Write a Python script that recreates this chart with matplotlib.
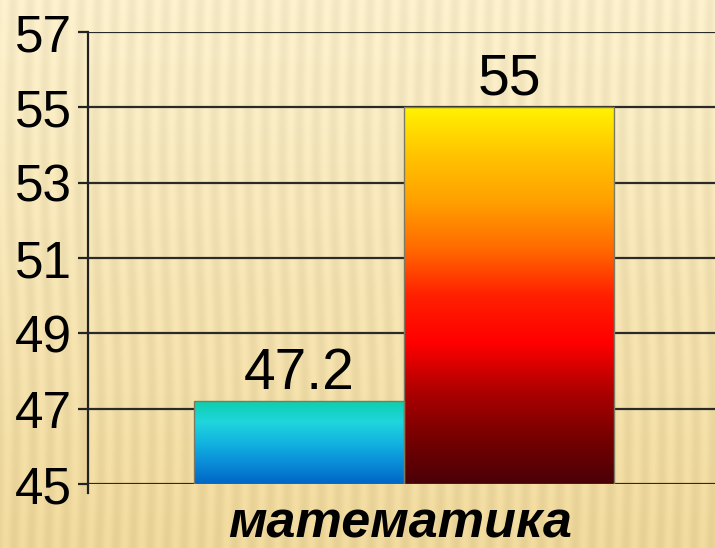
import matplotlib
matplotlib.use('Agg')
import matplotlib.pyplot as plt
import numpy as np
from matplotlib.colors import LinearSegmentedColormap

plt.rcParams['font.family'] = ['Liberation Sans', 'DejaVu Sans']

# data
category = 'математика'
values = [47.2, 55]
value_labels = ['47.2', '55']
y_ticks = [45, 47, 49, 51, 53, 55, 57]

# bar gradients, listed top -> bottom
grad_blue = ['#0ccfae', '#20d6dc', '#12b4e0', '#0a8cd8', '#0066c4']
grad_fire = ['#fff200', '#ffc400', '#ffa000', '#ff6a00', '#ff2000',
             '#ff0000', '#b00000', '#780000', '#4a0008']
gradients = [grad_blue, grad_fire]

fig = plt.figure(figsize=(7.15, 5.48), dpi=100)

# background: beige with soft vertical stripes
bg = fig.add_axes([0, 0, 1, 1], zorder=-10)
h, w = 548, 715
xx = np.arange(w)
yy = np.linspace(0, 1, h)[:, None]
stripes = 0.5 + 0.5 * np.sin(2 * np.pi * (xx + 3 * np.sin(yy * 6)) / 17.0)
base_top = np.array([0.975, 0.93, 0.79])
base_bot = np.array([0.93, 0.84, 0.60])
base = base_top * (1 - yy[..., None]) + base_bot * yy[..., None]
tex = base + (stripes[..., None] - 0.5) * 0.045
bg.imshow(np.clip(tex, 0, 1), aspect='auto', extent=[0, 1, 0, 1], origin='upper')
bg.axis('off')

ax = fig.add_axes([88 / 715, 64 / 548, 627 / 715, 452 / 548])
ax.set_facecolor('none')

x = np.arange(len(values))
bars = ax.bar(x, [v - y_ticks[0] for v in values], bottom=y_ticks[0], width=1.0,
              color='none', edgecolor='#7d7a62', linewidth=1.0, zorder=3)

for bar, cols in zip(bars, gradients):
    cmap = LinearSegmentedColormap.from_list('g', cols)
    x0, y0 = bar.get_x(), bar.get_y()
    bw, bh = bar.get_width(), bar.get_height()
    grad = np.linspace(0, 1, 256)[:, None]
    im = ax.imshow(grad, cmap=cmap, aspect='auto', origin='upper',
                   extent=[x0, x0 + bw, y0, y0 + bh], zorder=2)
    im.set_clip_path(bar)

for xi, v, lab in zip(x, values, value_labels):
    ax.annotate(lab, (xi, v), xytext=(0, 9), textcoords='offset points',
                ha='center', va='baseline', fontsize=41, color='black')

ax.set_xlim(-1.005, 1.981)
ax.set_ylim(y_ticks[0], y_ticks[-1])
ax.set_yticks(y_ticks)
ax.set_yticklabels([str(t) for t in y_ticks], fontsize=37)
ax.tick_params(axis='y', length=7.5, width=1.6, color='#222222', pad=4)
ax.set_xticks([])
ax.grid(axis='y', color='#2a2a2a', linewidth=1.6, zorder=1)
ax.set_axisbelow(True)

for s in ['top', 'right', 'bottom']:
    ax.spines[s].set_visible(False)
ax.spines['left'].set_color('#222222')
ax.spines['left'].set_linewidth(1.6)
ax.spines['left'].set_bounds(44.75, 57)

ax.text(0.5 - 0.003, -0.118, category, transform=ax.transAxes, ha='center', va='baseline',
        fontsize=37.5, fontweight='bold', fontstyle='italic', color='black')

fig.savefig('out.png', dpi=100)
